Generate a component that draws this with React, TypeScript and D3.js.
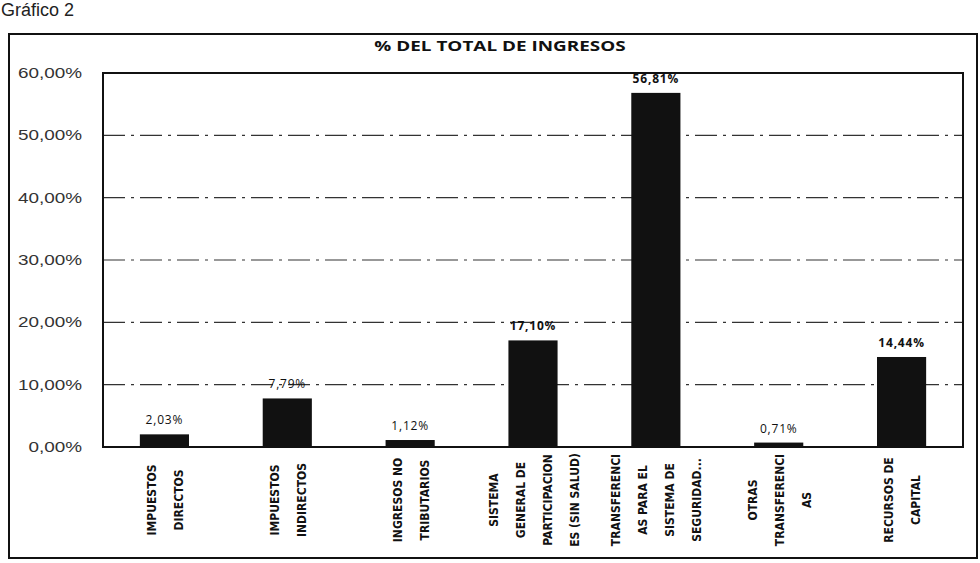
import React from 'react';
import * as d3 from 'd3';

// categories (x axis labels, already split in lines as in the chart)
const categories = [
  'IMPUESTOS DIRECTOS',
  'IMPUESTOS INDIRECTOS',
  'INGRESOS NO TRIBUTARIOS',
  'SISTEMA GENERAL DE PARTICIPACIONES (SIN SALUD)',
  'TRANSFERENCIAS PARA EL SISTEMA DE SEGURIDAD...',
  'OTRAS TRANSFERENCIAS',
  'RECURSOS DE CAPITAL',
];
const categoryLines = [
  ['IMPUESTOS', 'DIRECTOS'],
  ['IMPUESTOS', 'INDIRECTOS'],
  ['INGRESOS NO', 'TRIBUTARIOS'],
  ['SISTEMA', 'GENERAL DE', 'PARTICIPACION', 'ES (SIN SALUD)'],
  ['TRANSFERENCI', 'AS PARA EL', 'SISTEMA DE', 'SEGURIDAD...'],
  ['OTRAS', 'TRANSFERENCI', 'AS'],
  ['RECURSOS DE', 'CAPITAL'],
];
// share of total income
const values = [0.0203, 0.0779, 0.0112, 0.171, 0.5681, 0.0071, 0.1444];
const yTicks = [0, 0.1, 0.2, 0.3, 0.4, 0.5, 0.6];

const esLocale = d3.formatLocale({
  decimal: ',',
  thousands: '.',
  grouping: [3],
  currency: ['', ' €'],
  percent: '%',
});
const pct = esLocale.format('.2%');

const W = 980;
const H = 563;
const plot = { left: 103, right: 963, top: 73, bottom: 447 };
const narrow = '"Liberation Sans Narrow", "DejaVu Sans Condensed", "Liberation Sans", sans-serif';

export default function App() {
  const x = d3.scaleBand()
    .domain(categories)
    .range([plot.left, plot.right])
    .paddingInner(0.6)
    .paddingOuter(0.3);
  const y = d3.scaleLinear().domain([0, 0.6]).range([plot.bottom, plot.top]);

  return (
    <svg width={W} height={H} style={{ position: 'absolute', left: 0, top: 0, background: '#fff' }}>
      <text x={1} y={16} fontFamily='"Liberation Sans", Arial, sans-serif' fontSize={18} fill="#222">Gráfico 2</text>

      {/* outer chart frame */}
      <rect x={9} y={34} width={968} height={524} fill="none" stroke="#111" strokeWidth={2} />

      {/* the scanned chart is stretched horizontally, hence the scaleX on some texts */}
      <text transform="translate(500,51) scale(1.35,1)" textAnchor="middle"
        fontFamily='"Open Sans", "DejaVu Sans", sans-serif'
        fontWeight="bold" fontSize={14} fill="#111">% DEL TOTAL DE INGRESOS</text>

      {/* grid */}
      {yTicks.filter(t => t > 0 && t < 0.6).map(t => (
        <line key={t} x1={plot.left} x2={plot.right} y1={y(t)} y2={y(t)}
          stroke="#333" strokeWidth={1.2} strokeDasharray="22 6 3 6" />
      ))}

      {/* y tick labels */}
      {yTicks.map(t => (
        <text key={t} transform={`translate(82,${y(t) + 5}) scale(1.35,1)`} textAnchor="end"
          fontFamily='"Liberation Sans", Arial, sans-serif' fontSize={14} fill="#333">{pct(t)}</text>
      ))}

      {/* bars */}
      {values.map((v, i) => (
        <rect key={categories[i]} x={x(categories[i])} y={y(v)} width={x.bandwidth()}
          height={y(0) - y(v)} fill="#111" />
      ))}

      {/* value labels */}
      {values.map((v, i) => (
        <text key={categories[i]} x={(x(categories[i]) as number) + x.bandwidth() / 2} y={y(v) - 10}
          textAnchor="middle" fontFamily='"Open Sans", "DejaVu Sans", sans-serif' fontSize={12}
          letterSpacing={0.8} fontWeight={v > 0.1 ? 'bold' : 'normal'} fill="#111">{pct(v)}</text>
      ))}

      {/* plot area border */}
      <rect x={plot.left} y={plot.top} width={plot.right - plot.left} height={plot.bottom - plot.top}
        fill="none" stroke="#111" strokeWidth={2} />

      {/* category labels, rotated */}
      {categoryLines.map((lines, i) => {
        const cx = (x(categories[i]) as number) + x.bandwidth() / 2;
        const step = 27;
        return lines.map((ln, j) => {
          const lx = cx + (j - (lines.length - 1) / 2) * step + 5;
          return (
            <text key={i + '-' + j} transform={`translate(${lx},500) rotate(-90)`} textAnchor="middle"
              fontFamily={narrow} fontWeight="bold" fontSize={12} fill="#111">{ln}</text>
          );
        });
      })}
    </svg>
  );
}
